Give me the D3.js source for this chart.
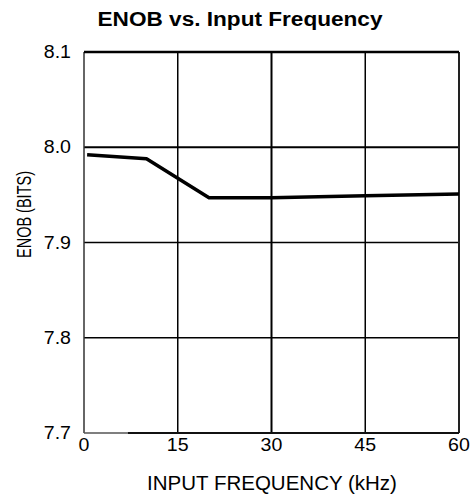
<!DOCTYPE html>
<html><head><meta charset="utf-8">
<script src="https://cdn.jsdelivr.net/npm/d3@7"></script>
<style>body{margin:0;background:#fff}svg{display:block}text{font-family:"Liberation Sans",Arial,sans-serif;fill:#000}</style>
</head><body>
<script>
const freqKHz = [0.5, 10, 20, 30, 45, 60];
const enobBits = [7.992, 7.988, 7.947, 7.947, 7.949, 7.951];
const xTicks = [0, 15, 30, 45, 60];
const yTicks = [7.7, 7.8, 7.9, 8.0, 8.1];

const W = 475, H = 501;
const m = {left: 84, right: 16, top: 52, bottom: 68};
const svg = d3.select("body").append("svg").attr("width", W).attr("height", H);
const x = d3.scaleLinear().domain([0, 60]).range([m.left, W - m.right]);
const y = d3.scaleLinear().domain([7.7, 8.1]).range([H - m.bottom, m.top]);

// grid
svg.append("g").selectAll("line").data(xTicks.slice(1, -1)).join("line")
  .attr("x1", d => x(d)).attr("x2", d => x(d)).attr("y1", y(8.1)).attr("y2", y(7.7))
  .attr("stroke", "#000").attr("stroke-width", d => d === 30 ? 2 : 1.5);
svg.append("g").selectAll("line").data(yTicks.slice(1, -1)).join("line")
  .attr("x1", x(0)).attr("x2", x(60)).attr("y1", d => y(d)).attr("y2", d => y(d))
  .attr("stroke", "#000").attr("stroke-width", d => d === 8.0 ? 2 : 1.5);
// frame
svg.append("line").attr("x1", x(0)).attr("x2", x(0)).attr("y1", y(8.1)).attr("y2", y(7.7))
  .attr("stroke", "#333").attr("stroke-width", 1.5);
svg.append("line").attr("x1", x(60)).attr("x2", x(60)).attr("y1", y(8.1)).attr("y2", y(7.7))
  .attr("stroke", "#222").attr("stroke-width", 2);
svg.append("line").attr("x1", x(0)).attr("x2", x(7)).attr("y1", y(7.7)).attr("y2", y(7.7))
  .attr("stroke", "#555").attr("stroke-width", 1.5);
svg.append("line").attr("x1", x(7)).attr("x2", x(60)).attr("y1", y(7.7)).attr("y2", y(7.7))
  .attr("stroke", "#111").attr("stroke-width", 1.8);
svg.append("line").attr("x1", x(0)).attr("x2", x(60)).attr("y1", y(8.1)).attr("y2", y(8.1))
  .attr("stroke", "#000").attr("stroke-width", 2.5);

// data line
svg.append("path").datum(freqKHz.map((f, i) => [f, enobBits[i]]))
  .attr("d", d3.line().x(d => x(d[0])).y(d => y(d[1])))
  .attr("fill", "none").attr("stroke", "#000").attr("stroke-width", 3.5).attr("stroke-linejoin", "round");

// tick labels (slightly wide lettering as in the original)
svg.append("g").selectAll("text").data(yTicks).join("text")
  .attr("transform", d => `translate(71,${y(d)}) scale(1.12,1)`).attr("dy", "0.35em").attr("text-anchor", "end")
  .attr("font-size", 17.5).text(d => d.toFixed(1));
svg.append("g").selectAll("text").data(xTicks).join("text")
  .attr("transform", d => `translate(${x(d)},451) scale(1.12,1)`).attr("text-anchor", "middle")
  .attr("font-size", 17.5).text(d => d);

// titles
svg.append("text").attr("x", 97.5).attr("y", 26)
  .attr("font-size", 20).attr("font-weight", "bold")
  .attr("textLength", 285).attr("lengthAdjust", "spacingAndGlyphs").text("ENOB vs. Input Frequency");
svg.append("text").attr("x", 272).attr("y", 490).attr("text-anchor", "middle")
  .attr("font-size", 20.5).text("INPUT FREQUENCY (kHz)");
svg.append("text").attr("transform", "translate(31,258) rotate(-90)")
  .attr("font-size", 20).attr("textLength", 87).attr("lengthAdjust", "spacingAndGlyphs").text("ENOB (BITS)");
</script>
</body></html>
